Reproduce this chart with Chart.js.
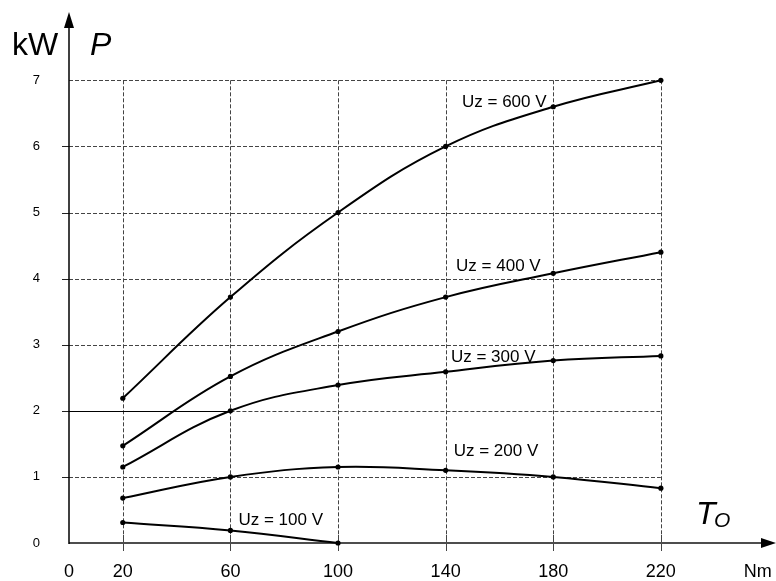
<!DOCTYPE html>
<html>
<head>
<meta charset="utf-8">
<script src="https://cdn.jsdelivr.net/npm/chart.js@4"></script>
<style>
  html, body { margin: 0; padding: 0; background: #fff; }
  canvas { display: block; }
</style>
</head>
<body>
<canvas id="chart-power" width="776" height="581"></canvas>
<script>
// torque To [Nm] and power P [kW] for each supply voltage
const torque = [20, 60, 100, 140, 180, 220];
const p600 = [2.19, 3.72, 5.0, 6.0, 6.6, 7.0];
const p400 = [1.47, 2.52, 3.2, 3.72, 4.08, 4.4];
const p300 = [1.15, 2.0, 2.39, 2.59, 2.76, 2.83];
const p200 = [0.68, 1.0, 1.15, 1.1, 1.0, 0.83];
const p100 = [0.31, 0.19, 0.0];
const voltLabels = ["Uz = 600 V", "Uz = 400 V", "Uz = 300 V", "Uz = 200 V", "Uz = 100 V"];
const xTicks = [0, 20, 60, 100, 140, 180, 220];
const yTicks = [0, 1, 2, 3, 4, 5, 6, 7];
const xUnit = "Nm";
const xUnitAt = 256;

// where the curve names sit (data units)
const labelX = [161.8, 159.6, 157.7, 158.7, 78.7];
const labelY = [6.66, 4.18, 2.81, 1.38, 0.35];

const FONT = "'Liberation Sans', Arial, sans-serif";

let toPoints = function (values) {
  return values.map(function (v, i) {
    return { x: torque[i], y: v };
  });
};

let curve = function (values) {
  return {
    data: toPoints(values),
    borderColor: "#000",
    backgroundColor: "#000",
    borderWidth: 2,
    tension: 0.4,
    pointRadius: 2.6,
    pointBackgroundColor: "#000",
    pointBorderWidth: 0,
    fill: false,
    clip: false,
  };
};

let paperPlugin = {
  id: "paper",
  beforeDatasetsDraw: function (chart) {
    let ctx = chart.ctx;
    let xs = chart.scales.x;
    let ys = chart.scales.y;
    let area = chart.chartArea;
    let x0 = xs.getPixelForValue(0);
    let y0 = ys.getPixelForValue(0);
    let xEnd = xs.getPixelForValue(torque[torque.length - 1]);
    let yTop = ys.getPixelForValue(yTicks[yTicks.length - 1]);

    ctx.save();
    ctx.strokeStyle = "#444";
    ctx.lineWidth = 1;

    // dashed grid
    ctx.setLineDash([4, 2]);
    torque.forEach(function (t) {
      let px = Math.round(xs.getPixelForValue(t)) + 0.5;
      ctx.beginPath();
      ctx.moveTo(px, yTop);
      ctx.lineTo(px, y0);
      ctx.stroke();
    });
    yTicks.slice(1).forEach(function (v) {
      let py = Math.round(ys.getPixelForValue(v)) + 0.5;
      let from = v === 2 ? xs.getPixelForValue(60) : x0;
      ctx.beginPath();
      ctx.moveTo(from, py);
      ctx.lineTo(xEnd, py);
      ctx.stroke();
    });
    ctx.setLineDash([]);

    // solid piece on the 2 kW line
    let p2 = Math.round(ys.getPixelForValue(2)) + 0.5;
    ctx.strokeStyle = "#000";
    ctx.beginPath();
    ctx.moveTo(x0, p2);
    ctx.lineTo(xs.getPixelForValue(60), p2);
    ctx.stroke();

    // tick marks
    ctx.strokeStyle = "#222";
    yTicks.slice(1, 7).forEach(function (v) {
      let py = Math.round(ys.getPixelForValue(v)) + 0.5;
      ctx.beginPath();
      ctx.moveTo(x0 - 7, py);
      ctx.lineTo(x0, py);
      ctx.stroke();
    });
    ctx.strokeStyle = "#444";
    torque.forEach(function (t) {
      let px = Math.round(xs.getPixelForValue(t)) + 0.5;
      ctx.beginPath();
      ctx.moveTo(px, y0 - 8);
      ctx.lineTo(px, y0 + 8);
      ctx.stroke();
    });

    // x axis with arrow
    ctx.strokeStyle = "#4d4d4d";
    ctx.fillStyle = "#000";
    ctx.lineWidth = 2;
    ctx.beginPath();
    ctx.moveTo(x0, y0);
    ctx.lineTo(area.right - 12, y0);
    ctx.stroke();
    ctx.beginPath();
    ctx.moveTo(area.right, y0);
    ctx.lineTo(area.right - 15, y0 - 5);
    ctx.lineTo(area.right - 15, y0 + 5);
    ctx.closePath();
    ctx.fill();

    // y axis with arrow
    ctx.strokeStyle = "#000";
    ctx.lineWidth = 1.5;
    ctx.beginPath();
    ctx.moveTo(x0, y0 + 1);
    ctx.lineTo(x0, area.top + 24);
    ctx.stroke();
    ctx.beginPath();
    ctx.moveTo(x0, area.top + 12);
    ctx.lineTo(x0 - 5, area.top + 28);
    ctx.lineTo(x0 + 5, area.top + 28);
    ctx.closePath();
    ctx.fill();
    ctx.restore();
  },
  afterDraw: function (chart) {
    let ctx = chart.ctx;
    let xs = chart.scales.x;
    let ys = chart.scales.y;
    ctx.save();
    ctx.fillStyle = "#000";

    // axis names
    ctx.textBaseline = "alphabetic";
    ctx.textAlign = "left";
    ctx.font = "32px " + FONT;
    ctx.fillText("kW", 12, 55);
    ctx.font = "italic 32px " + FONT;
    ctx.fillText("P", 90, 55);
    ctx.fillText("T", 696, 524);
    ctx.font = "italic 21px " + FONT;
    ctx.fillText("O", 714, 527);

    // curve names
    ctx.font = "17px " + FONT;
    ctx.textAlign = "center";
    ctx.textBaseline = "middle";
    voltLabels.forEach(function (txt, i) {
      ctx.fillText(txt, xs.getPixelForValue(labelX[i]), ys.getPixelForValue(labelY[i]));
    });
    ctx.restore();
  },
};

window.onload = function () {
  let ctx = document.getElementById("chart-power").getContext("2d");

  new Chart(ctx, {
    type: "line",
    data: {
      datasets: [curve(p600), curve(p400), curve(p300), curve(p200), curve(p100)],
    },
    options: {
      responsive: false,
      animation: false,
      layout: { padding: 0, autoPadding: false },
      plugins: {
        legend: { display: false },
        tooltip: { enabled: false },
      },
      scales: {
        x: {
          type: "linear",
          min: 0,
          max: 262.8,
          grid: { display: false, drawTicks: false },
          border: { display: false },
          afterBuildTicks: function (scale) {
            scale.ticks = xTicks.concat([xUnitAt]).map(function (v) {
              return { value: v };
            });
          },
          afterFit: function (scale) {
            scale.height = 38;
            scale.paddingLeft = 0;
            scale.paddingRight = 0;
          },
          ticks: {
            autoSkip: false,
            maxRotation: 0,
            padding: 18,
            color: "#000",
            font: { family: FONT, size: 18 },
            callback: function (value) {
              return value === xUnitAt ? xUnit : value;
            },
          },
        },
        y: {
          type: "linear",
          min: 0,
          max: 8.215,
          grid: { display: false, drawTicks: false },
          border: { display: false },
          afterBuildTicks: function (scale) {
            scale.ticks = yTicks.map(function (v) {
              return { value: v };
            });
          },
          afterFit: function (scale) {
            scale.width = 69;
            scale.paddingTop = 0;
            scale.paddingBottom = 0;
          },
          ticks: {
            padding: 29,
            color: "#000",
            font: { family: FONT, size: 13 },
          },
        },
      },
    },
    plugins: [paperPlugin],
  });
};
</script>
</body>
</html>
